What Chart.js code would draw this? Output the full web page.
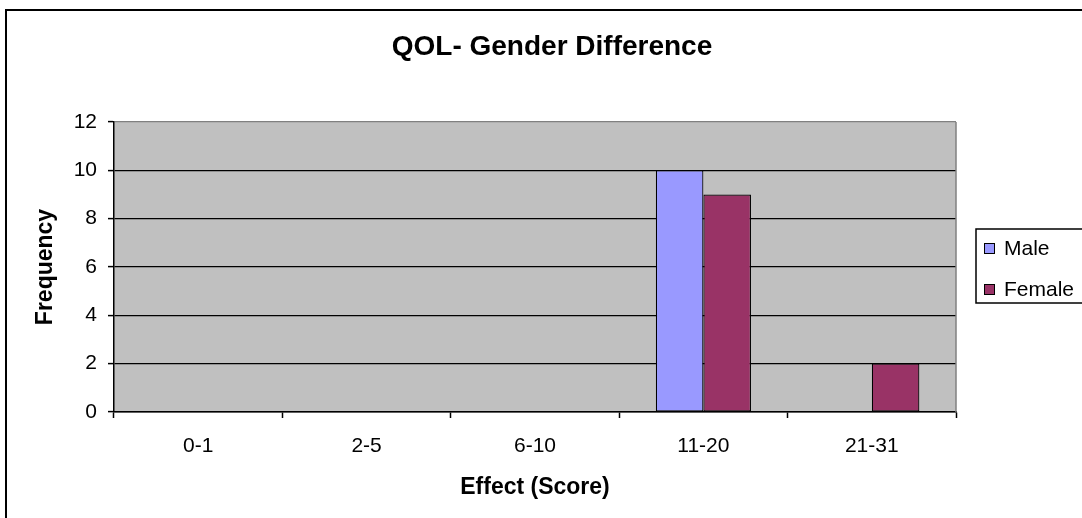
<!DOCTYPE html>
<html>
<head>
<meta charset="utf-8">
<script src="https://cdn.jsdelivr.net/npm/chart.js@4.4.0/dist/chart.umd.min.js"></script>
<style>
	html, body { margin: 0; padding: 0; background: #fff; }
	#chart { display: block; }
</style>
</head>
<body>
<canvas id="chart" width="1082" height="518"></canvas>
<script>
var categories = ['0-1', '2-5', '6-10', '11-20', '21-31'];
var maleValues = [0, 0, 0, 10, 0];
var femaleValues = [0, 0, 0, 9, 2];
var yTicks = [0, 2, 4, 6, 8, 10, 12];
var seriesNames = ['Male', 'Female'];
var chartTitle = 'QOL- Gender Difference';
var xTitle = 'Effect (Score)';
var yTitle = 'Frequency';

var fontFamily = "'Liberation Sans', Arial, sans-serif";

// plot backdrop, outer frame, title and the boxed legend (Excel look)
var excelFrame = {
	id: 'excelFrame',
	beforeDraw(chart) {
		let { ctx, chartArea: a } = chart;
		ctx.save();
		ctx.fillStyle = '#C0C0C0';
		ctx.fillRect(a.left, a.top, a.right - a.left, a.bottom - a.top);
		ctx.restore();
	},
	beforeDatasetsDraw(chart) {
		let { ctx, chartArea: a } = chart;
		ctx.save();
		ctx.strokeStyle = '#808080';
		ctx.lineWidth = 1.5;
		ctx.beginPath();
		ctx.moveTo(a.right, a.top);
		ctx.lineTo(a.right, a.bottom);
		ctx.stroke();
		ctx.restore();
	},
	afterDraw(chart) {
		let ctx = chart.ctx;
		ctx.save();

		// outer chart border
		ctx.strokeStyle = '#000';
		ctx.lineWidth = 2;
		ctx.strokeRect(6, 10, 1200, 700);

		// title
		ctx.fillStyle = '#000';
		ctx.font = 'bold 28px ' + fontFamily;
		ctx.textAlign = 'center';
		ctx.textBaseline = 'middle';
		ctx.fillText(chartTitle, 552, 47);

		// legend box
		ctx.lineWidth = 1.5;
		ctx.strokeRect(976, 229, 200, 74);
		ctx.font = '21px ' + fontFamily;
		ctx.textAlign = 'left';
		let rows = [249, 290];
		chart.data.datasets.forEach((ds, i) => {
			let y = rows[i];
			ctx.fillStyle = ds.backgroundColor;
			ctx.fillRect(984, y - 6, 11, 11);
			ctx.lineWidth = 1;
			ctx.strokeStyle = '#000';
			ctx.strokeRect(984.5, y - 5.5, 10, 10);
			ctx.fillStyle = '#000';
			ctx.fillText(ds.label, 1004, y);
		});
		ctx.restore();
	}
};

var ctx = document.getElementById('chart').getContext('2d');

new Chart(ctx, {
	type: 'bar',
	data: {
		labels: categories,
		datasets: [{
			label: seriesNames[0],
			data: maleValues,
			backgroundColor: '#9999FF',
			borderColor: '#000',
			borderWidth: 1.2,
			borderSkipped: false
		},
		{
			label: seriesNames[1],
			data: femaleValues,
			backgroundColor: '#993366',
			borderColor: '#000',
			borderWidth: 1.2,
			borderSkipped: false
		}]
	},
	options: {
		responsive: false,
		animation: false,
		events: [],
		datasets: {
			bar: {
				barPercentage: 1,
				categoryPercentage: 0.565
			}
		},
		layout: {
			padding: { top: 122, right: 126, left: 0, bottom: 0 }
		},
		plugins: {
			legend: { display: false },
			title: { display: false },
			tooltip: { enabled: false }
		},
		scales: {
			x: {
				grid: {
					offset: true,
					drawOnChartArea: false,
					drawTicks: true,
					tickLength: 6,
					tickColor: '#000',
					tickWidth: 1.5
				},
				border: { color: '#000', width: 1.5 },
				ticks: {
					color: '#000',
					padding: 16,
					maxRotation: 0,
					autoSkip: false,
					font: { size: 21, family: fontFamily }
				},
				title: {
					display: true,
					text: xTitle,
					color: '#000',
					padding: { top: 0, bottom: 17 },
					font: { size: 23, weight: 'bold', family: fontFamily }
				},
				afterFit: (s) => { s.height = 106; }
			},
			y: {
				min: 0,
				max: 12,
				afterBuildTicks: (s) => { s.ticks = yTicks.map(v => ({ value: v })); },
				grid: {
					color: (c) => c.tick && c.tick.value === 12 ? '#808080' : '#000',
					lineWidth: 1.2,
					tickLength: 6,
					tickColor: '#000',
					tickWidth: 1.5
				},
				border: { color: '#000', width: 1.5 },
				ticks: {
					color: '#000',
					padding: 11,
					font: { size: 21, family: fontFamily }
				},
				title: {
					display: true,
					text: yTitle,
					color: '#000',
					padding: { top: 32, bottom: 0 },
					font: { size: 23, weight: 'bold', family: fontFamily }
				},
				afterFit: (s) => { s.width = 114; }
			}
		}
	},
	plugins: [excelFrame]
});
</script>
</body>
</html>
